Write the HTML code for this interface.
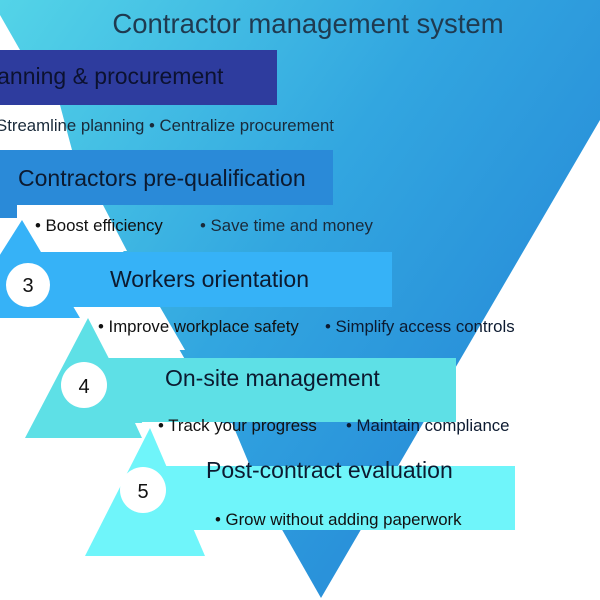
<!DOCTYPE html>
<html><head><style>
body{margin:0;width:600px;height:600px;overflow:hidden;background:#fff;font-family:"Liberation Sans",sans-serif}
svg{display:block}
</style></head><body>
<svg width="600" height="600" viewBox="0 0 600 600" xmlns="http://www.w3.org/2000/svg">
<defs>
<linearGradient id="g" x1="0" y1="0" x2="1" y2="0.6">
<stop offset="0" stop-color="#55d6e8"/><stop offset="0.5" stop-color="#32a6e0"/><stop offset="1" stop-color="#2484d6"/>
</linearGradient>
</defs>
<polygon points="-20,0 670,0 321,598" fill="url(#g)"/>
<polygon points="0,15 20,50 0,50" fill="#fff"/>
<rect x="0" y="50" width="277" height="55" fill="#2e3c9e"/>
<polygon points="0,105 60,105 72,150 0,150" fill="#fff"/>
<polygon points="0,150 333,150 333,205 17,205 17,218 0,218" fill="#2a8ad8"/>
<polygon points="17,205 103,205 127,251 45,251" fill="#fff"/>
<polygon points="22,220 80,318 -40,318" fill="#36b2f7"/>
<rect x="40" y="252" width="352" height="55" fill="#36b2f7"/>
<rect x="0" y="262" width="60" height="56" fill="#36b2f7"/>
<polygon points="80,307 160,307 185,350 100,350" fill="#fff"/>
<polygon points="88,318 150,438 25,438" fill="#5ee0e6"/>
<rect x="100" y="358" width="356" height="64" fill="#5ee0e6"/>
<polygon points="135,423 232,423 250,466 155,466" fill="#fff"/>
<polygon points="150,428 205,556 85,556" fill="#6ff5fa"/>
<rect x="160" y="466" width="355" height="64" fill="#6ff5fa"/>
<circle cx="28" cy="285" r="22" fill="#fff"/>
<circle cx="84" cy="385" r="23" fill="#fff"/>
<circle cx="143" cy="490" r="23" fill="#fff"/>
<g font-family="Liberation Sans, sans-serif" fill="#111">
<text x="308" y="33" font-size="27.5" text-anchor="middle" fill="#1f3a50">Contractor management system</text>
<text x="-8" y="84" font-size="23" fill="#0c1230">lanning &amp; procurement</text>
<text x="-4" y="131" font-size="16.8" fill="#1a2a3a">Streamline planning  •  Centralize procurement</text>
<text x="18" y="186" font-size="23" fill="#0c1a30">Contractors pre-qualification</text>
<text x="35" y="231" font-size="16.8">• Boost efficiency</text>
<text x="200" y="231" font-size="16.8" fill="#1a2a3a">• Save time and money</text>
<text x="28" y="292" font-size="20" text-anchor="middle">3</text>
<text x="110" y="287" font-size="23" fill="#0c1a30">Workers orientation</text>
<text x="98" y="332" font-size="16.8">• Improve workplace safety</text>
<text x="325" y="332" font-size="16.8" fill="#0c1a30">• Simplify access controls</text>
<text x="84" y="393" font-size="20" text-anchor="middle">4</text>
<text x="165" y="386" font-size="23" fill="#0c1a30">On-site management</text>
<text x="158" y="431" font-size="16.8">• Track your progress</text>
<text x="346" y="431" font-size="16.8" fill="#0c1a30">• Maintain compliance</text>
<text x="143" y="498" font-size="20" text-anchor="middle">5</text>
<text x="206" y="478" font-size="23" fill="#0c1a30">Post-contract evaluation</text>
<text x="215" y="525" font-size="16.8">• Grow without adding paperwork</text>
</g>
</svg>
</body></html>
